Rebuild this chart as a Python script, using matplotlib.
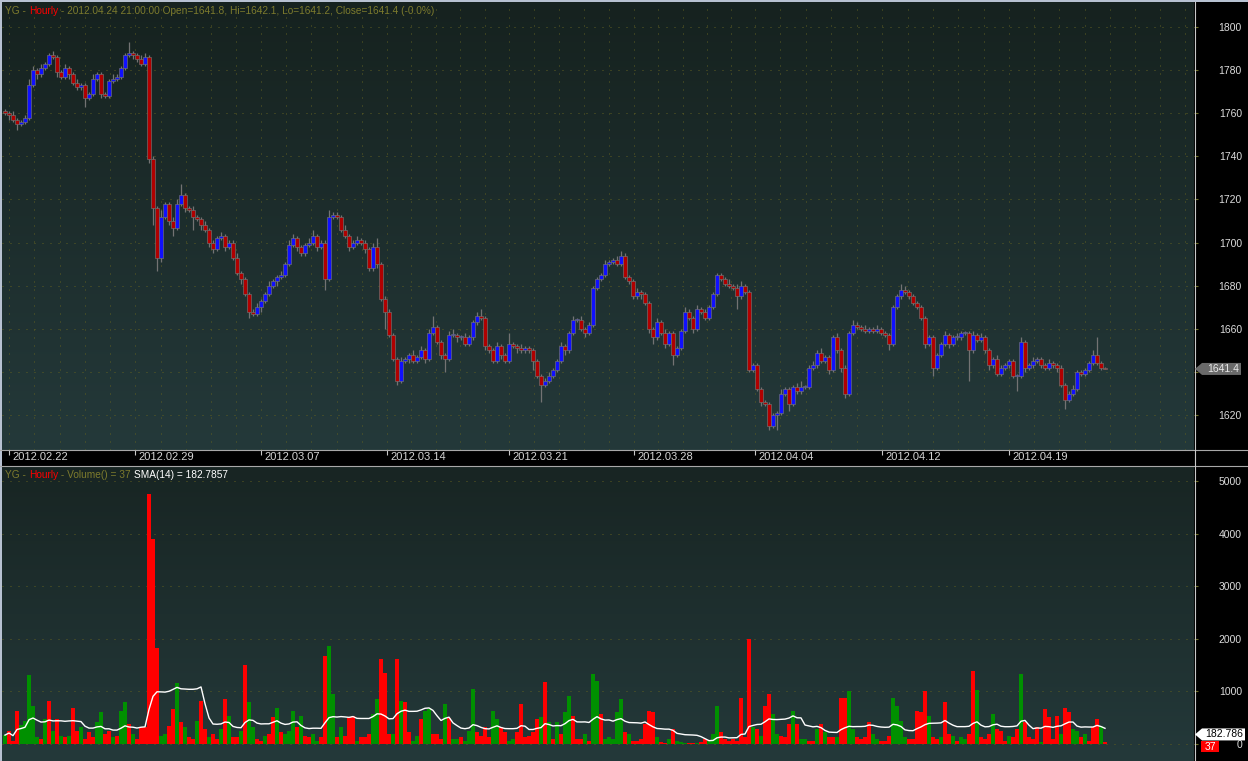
import numpy as np
import pandas as pd
import matplotlib
matplotlib.use("Agg")
import matplotlib.pyplot as plt
from matplotlib.colors import LinearSegmentedColormap
from matplotlib.patches import Polygon, Rectangle
from matplotlib.lines import Line2D
from matplotlib.transforms import IdentityTransform, ScaledTranslation

# hourly closes of YG (one entry per candle)
closes = [
    1760, 1759, 1757, 1755, 1756, 1758, 1773, 1780, 1778, 1781, 1783, 1787,
    1786, 1779, 1777, 1781, 1778, 1774, 1772, 1773, 1767, 1769, 1776, 1778,
    1769, 1768, 1775, 1776, 1777, 1781, 1787, 1788, 1787, 1785, 1783, 1786,
    1739, 1716, 1693, 1712, 1718, 1710, 1707, 1718, 1722, 1716, 1715, 1712,
    1711, 1708, 1706, 1700, 1697, 1702, 1703, 1698, 1700, 1693, 1686, 1683,
    1676, 1668, 1667, 1670, 1673, 1676, 1680, 1682, 1684, 1685, 1690, 1699,
    1702, 1698, 1695, 1699, 1700, 1703, 1698, 1700, 1683, 1712, 1713, 1712,
    1706, 1703, 1698, 1700, 1701, 1700, 1697, 1688, 1698, 1690, 1674, 1668,
    1657, 1646, 1636, 1645, 1646, 1648, 1645, 1647, 1650, 1646, 1658, 1661,
    1654, 1648, 1646, 1657, 1657, 1656, 1656, 1653, 1656, 1663, 1666, 1665,
    1652, 1650, 1645, 1652, 1648, 1645, 1653, 1652, 1651, 1650, 1651, 1650,
    1645, 1638, 1634, 1636, 1638, 1641, 1645, 1652, 1650, 1658, 1664, 1664,
    1660, 1658, 1662, 1679, 1683, 1685, 1690, 1691, 1692, 1690, 1694, 1684,
    1682, 1675, 1677, 1676, 1672, 1660, 1656, 1663, 1658, 1653, 1658, 1648,
    1651, 1659, 1668, 1665, 1660, 1669, 1668, 1665, 1670, 1676, 1685, 1683,
    1681, 1680, 1679, 1675, 1680, 1677, 1641, 1643, 1632, 1626, 1625, 1615,
    1620, 1621, 1630, 1632, 1625, 1633, 1631, 1633, 1633, 1642, 1643, 1649,
    1645, 1647, 1641, 1656, 1650, 1642, 1630, 1658, 1662, 1661, 1660, 1659,
    1660, 1659, 1660, 1658, 1657, 1653, 1670, 1675, 1678, 1677, 1675, 1672,
    1670, 1665, 1653, 1656, 1642, 1648, 1653, 1657, 1653, 1656, 1656, 1658,
    1658, 1650, 1657, 1655, 1656, 1650, 1643, 1646, 1639, 1642, 1643, 1645,
    1638, 1638, 1654, 1642, 1643, 1645, 1646, 1643, 1642, 1644, 1643, 1642,
    1634, 1627, 1630, 1632, 1640, 1639, 1641, 1644, 1648, 1644, 1641.8, 1641.4,
]
first_open = 1761

# wick lengths above / below the candle bodies
up_wick = [
    1, 1, 2, 1, 1, 1, 3, 2, 1, 2, 1, 1,
    2, 1, 1, 2, 1, 1, 2, 1, 1, 1, 2, 1,
    1, 1, 1, 2, 1, 1, 1, 5, 1, 1, 2, 2,
    1, 1, 1, 3, 1, 1, 2, 2, 5, 1, 1, 2,
    1, 1, 2, 1, 1, 1, 2, 1, 1, 1, 2, 1,
    1, 1, 1, 2, 1, 1, 2, 1, 1, 2, 1, 2,
    2, 1, 1, 1, 2, 3, 1, 1, 1, 3, 1, 1,
    1, 2, 1, 1, 2, 1, 1, 1, 2, 4, 1, 1,
    1, 1, 1, 2, 1, 1, 2, 1, 2, 1, 2, 5,
    1, 1, 1, 2, 3, 1, 1, 2, 1, 1, 2, 3,
    1, 1, 1, 2, 1, 1, 5, 1, 1, 2, 1, 1,
    1, 1, 1, 1, 2, 1, 1, 2, 1, 1, 2, 1,
    2, 1, 1, 1, 1, 1, 2, 1, 1, 2, 2, 1,
    1, 1, 2, 1, 1, 1, 1, 2, 1, 2, 1, 1,
    1, 1, 2, 1, 1, 2, 1, 1, 1, 1, 1, 1,
    1, 2, 1, 2, 2, 1, 1, 1, 1, 1, 1, 1,
    1, 1, 2, 1, 1, 1, 2, 3, 1, 1, 2, 1,
    2, 1, 1, 1, 2, 1, 1, 1, 2, 1, 1, 2,
    1, 1, 2, 1, 1, 1, 1, 1, 3, 2, 1, 1,
    1, 1, 1, 1, 1, 1, 1, 2, 1, 1, 2, 1,
    1, 1, 2, 1, 2, 1, 1, 1, 2, 1, 1, 1,
    1, 1, 2, 1, 1, 2, 1, 1, 1, 2, 1, 1,
    1, 1, 1, 2, 1, 1, 1, 1, 2, 8, 1, 0.3,
]
down_wick = [
    1, 2, 1, 3, 1, 1, 1, 1, 2, 1, 1, 1,
    1, 2, 1, 1, 2, 1, 1, 1, 4, 1, 1, 1,
    2, 1, 1, 1, 1, 1, 1, 1, 2, 1, 1, 1,
    2, 8, 6, 2, 1, 2, 4, 1, 1, 2, 1, 6,
    1, 2, 1, 2, 2, 1, 1, 2, 1, 1, 1, 2,
    1, 3, 1, 1, 2, 1, 1, 1, 2, 1, 1, 1,
    1, 2, 1, 1, 1, 1, 2, 1, 5, 1, 1, 1,
    1, 1, 2, 1, 1, 1, 2, 1, 1, 2, 1, 8,
    1, 1, 2, 1, 1, 2, 1, 1, 1, 2, 1, 1,
    1, 2, 6, 1, 1, 2, 1, 1, 1, 1, 1, 1,
    2, 1, 1, 1, 2, 1, 1, 1, 2, 1, 1, 1,
    4, 1, 8, 1, 1, 1, 1, 1, 2, 1, 1, 1,
    1, 2, 1, 1, 1, 1, 1, 1, 1, 1, 1, 1,
    1, 1, 1, 2, 1, 2, 3, 1, 1, 2, 1, 5,
    1, 1, 1, 1, 2, 1, 1, 1, 1, 1, 1, 1,
    1, 1, 1, 6, 1, 1, 1, 1, 1, 2, 1, 2,
    1, 7, 1, 1, 3, 1, 1, 1, 1, 1, 1, 1,
    1, 1, 2, 1, 1, 2, 2, 1, 1, 1, 1, 1,
    1, 1, 1, 1, 1, 3, 1, 1, 1, 1, 1, 1,
    1, 1, 2, 1, 4, 1, 1, 1, 2, 1, 1, 1,
    1, 14, 1, 1, 1, 1, 2, 1, 1, 1, 1, 1,
    1, 7, 1, 2, 1, 1, 1, 1, 1, 1, 1, 2,
    1, 4, 1, 1, 1, 1, 1, 1, 1, 1, 1, 0.2,
]

volumes = [
    170, 250, 60, 630, 365, 440, 1320, 725, 125, 95, 470, 820,
    250, 470, 160, 125, 160, 690, 250, 315, 95, 220, 125, 410,
    600, 190, 250, 125, 160, 630, 790, 380, 190, 95, 315, 315,
    4750, 3900, 1820, 160, 190, 350, 660, 1165, 410, 315, 125, 95,
    440, 820, 285, 125, 190, 95, 285, 850, 535, 125, 125, 250,
    1510, 790, 315, 95, 60, 160, 190, 505, 690, 220, 190, 250,
    630, 315, 535, 160, 125, 190, 60, 125, 1670, 1860, 950, 125,
    315, 160, 505, 535, 60, 125, 125, 190, 570, 850, 1610, 1350,
    190, 190, 1610, 820, 790, 220, 60, 160, 470, 630, 660, 190,
    190, 95, 755, 500, 95, 95, 125, 60, 250, 1040, 220, 160,
    315, 125, 630, 475, 315, 220, 60, 95, 220, 755, 125, 160,
    220, 470, 505, 1170, 410, 95, 410, 190, 600, 915, 535, 95,
    95, 190, 60, 1325, 1205, 570, 95, 125, 95, 600, 860, 220,
    190, 60, 60, 95, 380, 630, 600, 125, 30, 20, 95, 285,
    60, 30, 20, 15, 15, 20, 30, 95, 60, 190, 725, 220,
    95, 60, 95, 60, 880, 125, 2000, 315, 285, 160, 725, 950,
    570, 190, 160, 125, 380, 630, 380, 95, 95, 60, 60, 285,
    380, 220, 125, 125, 125, 880, 880, 1010, 285, 125, 95, 125,
    410, 190, 95, 60, 60, 160, 880, 725, 440, 125, 95, 95,
    630, 600, 1010, 535, 125, 95, 125, 790, 190, 160, 60, 125,
    95, 190, 1390, 1020, 125, 95, 190, 570, 285, 250, 60, 160,
    125, 285, 1325, 410, 125, 95, 315, 30, 660, 505, 95, 535,
    190, 690, 600, 285, 250, 125, 190, 60, 315, 470, 350, 37,
]
# g = up volume bar, r = down volume bar
vol_side = "".join([
    "grrrgggggrgr", "grgrgrrgrrrg", "grrgrggrgrrr", "rrrggrrgrgrr",
    "grrgrrgrgrrg", "rggrrgrrgrgg", "grgrrggrrggr", "grrrgrrrggrr",
    "rgrgrrggrggr", "rrgrggrgggrr", "rrggrrggrrrr", "rrgrgrgrggrr",
    "rgrggrgggggr", "grrrrrrgrrgr", "gggrrgrrgggr", "rrrrrrrgrgrr",
    "ggrrrgrggrrg", "rgrrgrrggrrr", "rggrrrggggrr", "rrrgrrgrrgrg",
    "grrgrrrgrrrg", "rrgrrrrgrrrr", "grrggrgrrrgr",
])

date_labels = ["2012.02.22", "2012.02.29", "2012.03.07", "2012.03.14", "2012.03.21",
               "2012.03.28", "2012.04.04", "2012.04.12", "2012.04.19"]
date_pos = [1, 32.6, 64, 95.5, 126, 157.3, 187.5, 219.3, 251]
price_ticks = [1620, 1640, 1660, 1680, 1700, 1720, 1740, 1760, 1780, 1800]
vol_ticks = [0, 1000, 2000, 3000, 4000, 5000]
last_close = 1641.4
sma_last = 182.7857

plt.rcParams['font.family'] = ['Liberation Sans', 'DejaVu Sans']

W, H = 1248, 761
fig = plt.figure(figsize=(W / 100, H / 100), dpi=100, facecolor='#b7c1d1')
px = IdentityTransform()


def Y(py):
    # pixel row counted from the top -> display y
    return H - py


# black price scale column and date strip
fig.add_artist(Rectangle((1194, 0), W - 1194, H - 2, transform=px,
                         facecolor='black', edgecolor='none', zorder=0))
fig.add_artist(Rectangle((2, Y(466)), 1192, 16, transform=px,
                         facecolor='black', edgecolor='none', zorder=0))

ax1 = fig.add_axes([2 / W, (H - 450) / H, 1192 / W, 448 / H])
ax2 = fig.add_axes([2 / W, 0, 1192 / W, (H - 467) / H])


def paint(ax, top, bottom):
    cm = LinearSegmentedColormap.from_list('bg', [bottom, top])
    ax.imshow(np.linspace(0, 1, 256)[:, None], cmap=cm, origin='lower',
              extent=(0, 1, 0, 1), transform=ax.transAxes, aspect='auto', zorder=0)


paint(ax1, '#16221f', '#24393a')
paint(ax2, '#182523', '#24393a')

n = len(closes)
x = np.arange(n)
c = np.array(closes, float)
o = np.r_[first_open, c[:-1]]
hi = np.maximum(o, c) + np.array(up_wick)
lo = np.minimum(o, c) - np.array(down_wick)
rising = c >= o

# candles: gray wick + outline, blue up body, red down body
ax1.vlines(x, lo, hi, color='#737373', lw=0.9, zorder=2)
ax1.bar(x, np.maximum(np.abs(c - o), 0.5), bottom=np.minimum(o, c), width=0.8,
        color=np.where(rising, '#1010ff', '#b00000'), edgecolor='#737373',
        linewidth=0.45, zorder=3)

# volume + SMA(14)
vcol = ['#ff0000' if s == 'r' else '#009000' for s in vol_side]
ax2.bar(x, volumes, width=0.8, color=vcol, linewidth=0, zorder=2)
sma = pd.Series(volumes, dtype=float).rolling(14, min_periods=1).mean()
ax2.plot(x, sma, color='white', lw=1, zorder=3)

ax1.set_xlim(-0.75, 297.25)
ax2.set_xlim(-0.75, 297.25)
ax1.set_ylim(1603.8, 1811.6)
ax2.set_ylim(-322, 5265)

# dotted grid
dots = (0, (1, 7))
grid_c = '#5e5e22'
for p in price_ticks:
    ax1.axhline(p, color=grid_c, lw=0.72, ls=dots, zorder=1)
day_lines = []
for a, b in zip(date_pos[:-1], date_pos[1:]):
    day_lines += list(np.linspace(a, b, 6)[:-1])
d = date_pos[-1]
while d < 297:
    day_lines.append(d)
    d += 6.3
for v in day_lines:
    ax1.axvline(v, color=grid_c, lw=0.72, ls=dots, zorder=1)
for v in vol_ticks:
    ax2.axhline(v, color=grid_c, lw=0.72, ls=dots, zorder=1)

# axes / ticks (the 1640 label sits under the last-price tag)
ax1.set_yticks(price_ticks, [("" if p == 1640 else str(p)) for p in price_ticks])
ax2.set_yticks(vol_ticks)
for ax in (ax1, ax2):
    ax.yaxis.tick_right()
    ax.tick_params(axis='y', direction='out', length=3, width=0.8, color='#6e6e28',
                   labelcolor='#dcdcdc', labelsize=7.5, pad=31.5)
    for lab in ax.get_yticklabels():
        lab.set_ha('right')
    for s in ax.spines.values():
        s.set_visible(False)

ax1.set_xticks(date_pos, date_labels)
ax1.tick_params(axis='x', direction='out', length=3.5, width=0.8, color='#c8c8c8',
                labelcolor='#d4d4d4', labelsize=8, pad=-2)
shift = ScaledTranslation(3 / 100, 0, fig.dpi_scale_trans)
for lab in ax1.get_xticklabels():
    lab.set_ha('left')
    lab.set_transform(lab.get_transform() + shift)
ax2.set_xticks([])

# frame lines
fig.add_artist(Line2D([0, W], [Y(450), Y(450)], transform=px, color='#a8a8a8', lw=0.8))
fig.add_artist(Line2D([0, W], [Y(466), Y(466)], transform=px, color='#a8a8a8', lw=0.8))
fig.add_artist(Line2D([1194.5, 1194.5], [0, Y(2)], transform=px, color='#c8c8c8', lw=0.8))

# coloured header texts
r = fig.canvas.get_renderer()


def width(s, size):
    t = fig.text(0, 0, s + 'l', fontsize=size, transform=px)
    t2 = fig.text(0, 0, 'l', fontsize=size, transform=px)
    w = t.get_window_extent(r).width - t2.get_window_extent(r).width
    t.remove()
    t2.remove()
    return w


def write(xp, py, parts, size=7.3):
    for s, col in parts:
        fig.text(xp, Y(py), s, color=col, fontsize=size, va='center', ha='left',
                 transform=px, zorder=10)
        xp += width(s, size)


olive = '#7d7b2d'
write(5, 11, [("YG - ", olive), ("Hourly", '#ff0000'),
              (" - 2012.04.24 21:00:00 Open=1641.8, Hi=1642.1, Lo=1641.2, Close=1641.4 (-0.0%)", olive)])
write(5, 475, [("YG - ", olive), ("Hourly", '#ff0000'), (" - Volume() = 37 ", olive),
               ("SMA(14) = 182.7857", '#ffffff')])

# value tags on the scales
fig.canvas.draw()
yp = ax1.transData.transform((0, last_close))[1]
fig.add_artist(Polygon([(1195, yp), (1202, yp + 6), (1241, yp + 6), (1241, yp - 6), (1202, yp - 6)],
                       closed=True, transform=px, facecolor='#6a6a6a', edgecolor='none', zorder=5))
fig.text(1239, yp, f"{last_close}", color='#e8e8e8', fontsize=7.5, ha='right', va='center',
         transform=px, zorder=6)

ys = ax2.transData.transform((0, sma_last))[1]
fig.add_artist(Polygon([(1195, ys), (1202, ys + 6), (1245, ys + 6), (1245, ys - 6), (1202, ys - 6)],
                       closed=True, transform=px, facecolor='white', edgecolor='none', zorder=5))
fig.text(1243, ys, "182.786", color='black', fontsize=7.5, ha='right', va='center',
         transform=px, zorder=6)
fig.add_artist(Rectangle((1201, Y(752)), 18, 11, transform=px, facecolor='#ff0000',
                         edgecolor='none', zorder=5))
fig.text(1210, Y(746.5), str(volumes[-1]), color='white', fontsize=7.5, ha='center',
         va='center', transform=px, zorder=6)

fig.savefig('out.png', dpi=100, facecolor=fig.get_facecolor())
